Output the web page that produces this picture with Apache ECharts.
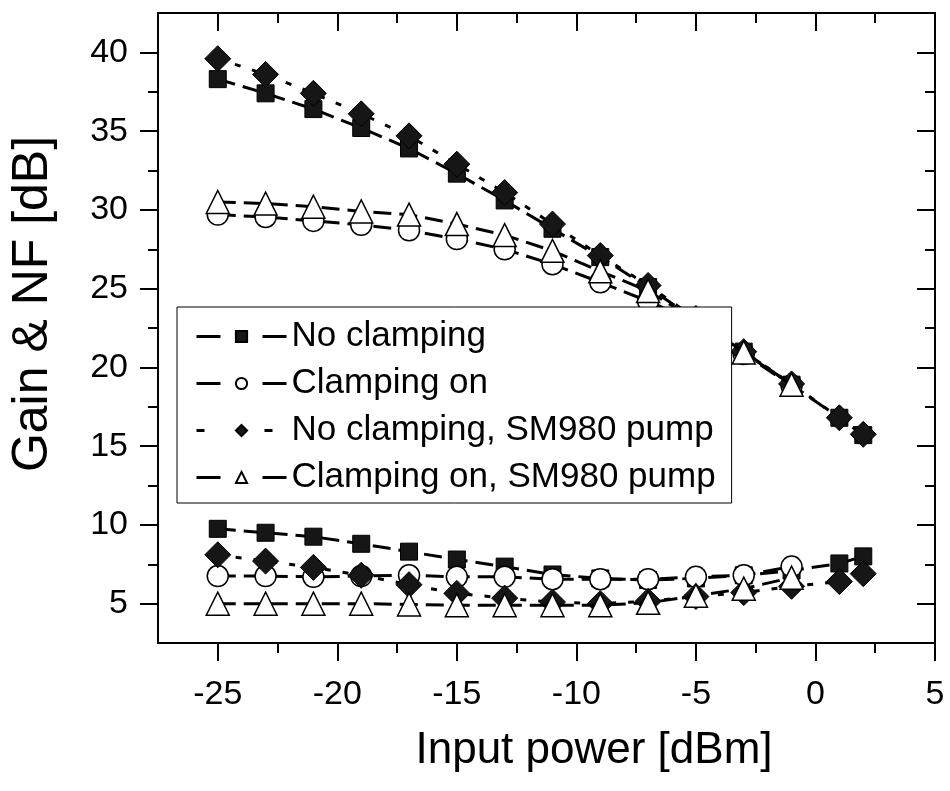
<!DOCTYPE html>
<html><head><meta charset="utf-8">
<script src="https://cdn.jsdelivr.net/npm/echarts@6/dist/echarts.min.js"></script>
<style>html,body{margin:0;padding:0;background:#fff}#c{width:950px;height:791px}</style>
</head><body><div id="c"></div>
<script>
// ---- data ----
const seriesNames = ['No clamping', 'Clamping on', 'No clamping, SM980 pump', 'Clamping on, SM980 pump'];
const xLong  = [-25, -23, -21, -19, -17, -15, -13, -11, -9, -7, -5, -3, -1, 1, 2];
const xShort = [-25, -23, -21, -19, -17, -15, -13, -11, -9, -7, -5, -3, -1];

const gainNoClamp      = [38.3, 37.4, 36.4, 35.2, 33.9, 32.3, 30.6, 28.8, 27.0, 25.1, 23.0, 21.0, 18.9, 16.8, 15.7];
const gainClamp        = [29.7, 29.55, 29.3, 29.05, 28.7, 28.15, 27.5, 26.55, 25.4, 24.2, 22.9, 20.85, 18.85];
const gainNoClampSM    = [39.6, 38.6, 37.4, 36.1, 34.7, 32.9, 31.1, 29.1, 27.1, 25.2, 23.1, 21.0, 18.95, 16.8, 15.75];
const gainClampSM      = [30.5, 30.4, 30.2, 29.9, 29.7, 29.1, 28.4, 27.4, 26.1, 24.85, 23.0, 20.95, 18.9];

const nfNoClamp        = [9.75, 9.5, 9.25, 8.8, 8.3, 7.8, 7.35, 6.85, 6.6, 6.5, 6.6, 6.8, 7.1, 7.55, 8.0];
const nfClamp          = [6.75, 6.75, 6.7, 6.75, 6.8, 6.7, 6.7, 6.55, 6.55, 6.55, 6.7, 6.8, 7.35];
const nfNoClampSM      = [8.1, 7.7, 7.3, 6.8, 6.2, 5.65, 5.35, 5.1, 5.0, 5.15, 5.45, 5.7, 6.1, 6.4, 6.9];
const nfClampSM        = [5.0, 5.0, 5.0, 5.0, 4.95, 4.9, 4.9, 4.9, 4.9, 5.05, 5.5, 5.95, 6.65];

const xMajorTicks = [-25, -20, -15, -10, -5, 0, 5];
const xMinorTicks = [-22.5, -17.5, -12.5, -7.5, -2.5, 2.5];
const yMajorTicks = [5, 10, 15, 20, 25, 30, 35, 40];
const yMinorTicks = [7.5, 12.5, 17.5, 22.5, 27.5, 32.5, 37.5];

const xTitle = 'Input power [dBm]';
const yTitle = 'Gain & NF [dB]';

// ---- chart ----
const FONT = '"Liberation Sans", Arial, Helvetica, sans-serif';
const X_MIN = -27.5, X_MAX = 5, Y_MIN = 2.5, Y_MAX = 42.5;
const MAJOR = 18, MINOR = 10;

function xAx(pos, ticks, len, inside, label, line, name) {
  return {
    type: 'value', position: pos, min: X_MIN, max: X_MAX,
    splitLine: { show: false },
    axisLine: { show: line, onZero: false, lineStyle: { color: '#000', width: 2 } },
    axisTick: { show: true, customValues: ticks, length: len, inside: inside, lineStyle: { color: '#000', width: 2 } },
    axisLabel: { show: label, customValues: ticks, margin: 35, color: '#000', fontSize: 34, fontFamily: FONT },
    name: name || '', nameLocation: 'middle', nameGap: 86,
    nameTextStyle: { color: '#000', fontSize: 44, fontFamily: FONT, padding: [0, 0, 0, 95] }
  };
}
function yAx(pos, ticks, len, inside, label, line, name) {
  return {
    type: 'value', position: pos, min: Y_MIN, max: Y_MAX,
    splitLine: { show: false },
    axisLine: { show: line, onZero: false, lineStyle: { color: '#000', width: 2 } },
    axisTick: { show: true, customValues: ticks, length: len, inside: inside, lineStyle: { color: '#000', width: 2 } },
    axisLabel: { show: label, customValues: ticks, margin: 30, color: '#000', fontSize: 34, fontFamily: FONT },
    name: name || '', nameLocation: 'middle', nameGap: 100,
    nameTextStyle: { color: '#000', fontSize: 50, fontFamily: FONT, padding: [0, 0, 0, 48] }
  };
}

const pairs = (xs, ys) => xs.map((x, i) => [x, ys[i]]);

const styles = [
  { symbol: 'rect', symbolSize: 17, fill: '#161616', border: '#000', bw: 1, dash: [18, 8], legendDash: [24, 42], z: 2 },
  { symbol: 'circle', symbolSize: 21, fill: '#fff', border: '#000', bw: 1.5, dash: [18, 8], legendDash: [24, 42], z: 3 },
  { symbol: 'diamond', symbolSize: 26, fill: '#161616', border: '#000', bw: 1, dash: [6, 12], legendDash: [8, 60], z: 4 },
  { symbol: 'triangle', symbolSize: 23, fill: '#fff', border: '#000', bw: 1.5, dash: [18, 8], legendDash: [24, 42], z: 5 }
];
const groups = [
  [xLong, gainNoClamp, nfNoClamp],
  [xShort, gainClamp, nfClamp],
  [xLong, gainNoClampSM, nfNoClampSM],
  [xShort, gainClampSM, nfClampSM]
];

const series = [];
groups.forEach((g, k) => {
  const s = styles[k];
  [g[1], g[2]].forEach(ys => {
    series.push({
      type: 'line', name: seriesNames[k], data: pairs(g[0], ys),
      xAxisIndex: 0, yAxisIndex: 0, z: s.z,
      symbol: s.symbol, symbolSize: s.symbolSize, showAllSymbol: true,
      itemStyle: { color: s.fill, borderColor: s.border, borderWidth: s.bw, opacity: 1 },
      lineStyle: { color: '#000', width: 3, type: s.dash },
      emphasis: { disabled: true }, animation: false
    });
  });
});

const legendData = seriesNames.map((n, k) => ({
  name: n,
  lineStyle: { color: '#000', width: 3, type: styles[k].legendDash }
}));

const chart = echarts.init(document.getElementById('c'), null, { renderer: 'canvas' });
chart.setOption({
  backgroundColor: '#fff',
  animation: false,
  grid: { left: 158, right: 15, top: 13, bottom: 148, containLabel: false },
  xAxis: [
    xAx('bottom', xMajorTicks, MAJOR, false, true, true, xTitle),
    xAx('bottom', xMinorTicks, MINOR, false, false, false),
    xAx('top', xMajorTicks, MAJOR, true, false, true),
    xAx('top', xMinorTicks, MINOR, true, false, false)
  ],
  yAxis: [
    yAx('left', yMajorTicks, MAJOR, false, true, true, yTitle),
    yAx('left', yMinorTicks, MINOR, false, false, false),
    yAx('right', yMajorTicks, MAJOR, true, false, true),
    yAx('right', yMinorTicks, MINOR, true, false, false)
  ],
  legend: {
    data: legendData, orient: 'vertical', left: 177, top: 307, z: 20,
    backgroundColor: '#fff', borderColor: '#000', borderWidth: 1,
    padding: [12, 16, 8, 18], itemGap: 12, itemWidth: 90, itemHeight: 14,
    textStyle: { color: '#000', fontSize: 35, fontFamily: FONT },
    selectedMode: false
  },
  series: series
});
</script></body></html>
